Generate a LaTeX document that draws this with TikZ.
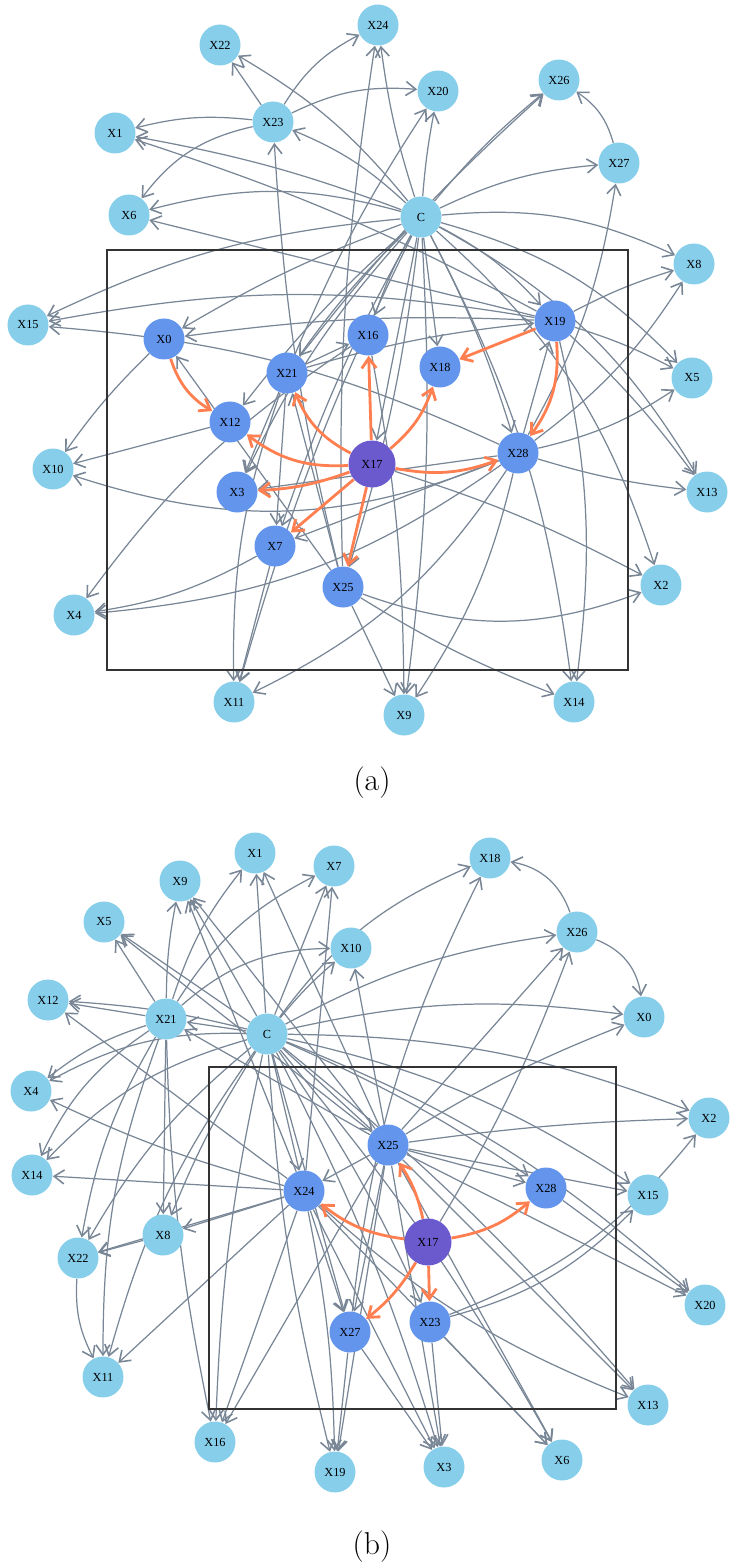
\documentclass[tikz,border=0pt]{standalone}
\usepackage{fontspec}
\newfontfamily\nodefont{Liberation Serif}
\usepackage{tikz}
\usetikzlibrary{arrows.meta,backgrounds}
\definecolor{xLeaf}{RGB}{135,206,235}
\definecolor{xMid}{RGB}{100,149,237}
\definecolor{xSource}{RGB}{106,90,205}
\definecolor{xEdge}{RGB}{120,134,150}
\definecolor{xHit}{RGB}{255,127,80}
\tikzset{
  leaf/.style={circle,fill=xLeaf,minimum size=8.2mm,inner sep=0pt,font=\nodefont\fontsize{7}{8}\selectfont},
  mid/.style={leaf,fill=xMid},
  source/.style={leaf,fill=xSource,minimum size=9.4mm},
  edge/.style={draw=xEdge,line width=0.7pt,-{Straight Barb[length=2mm,width=2.8mm,line width=0.9pt]}},
  hit/.style={draw=xHit,line width=1.6pt,-{Straight Barb[length=2mm,width=2.9mm]}},
}
\begin{document}
\begin{tikzpicture}[x=0.2mm,y=-0.2mm]
    \useasboundingbox (0,0) rectangle (740,1567);

    % panel (a)
    \draw[black!80,line width=0.6pt] (107,250) rectangle (628,670);
    \node[leaf] (aC) at (421,217) {C};
    \node[leaf] (a24) at (378,25) {X24};
    \node[leaf] (a22) at (220,45) {X22};
    \node[leaf] (a26) at (559,80) {X26};
    \node[leaf] (a20) at (438,91) {X20};
    \node[leaf] (a23) at (273,122) {X23};
    \node[leaf] (a1) at (115,133) {X1};
    \node[leaf] (a27) at (619,163) {X27};
    \node[leaf] (a6) at (129,215) {X6};
    \node[leaf] (a8) at (694,264) {X8};
    \node[leaf] (a15) at (28,325) {X15};
    \node[mid] (a0) at (164,339) {X0};
    \node[mid] (a16) at (368,335) {X16};
    \node[mid] (a19) at (555,321) {X19};
    \node[mid] (a21) at (287,373) {X21};
    \node[mid] (a18) at (440,367) {X18};
    \node[leaf] (a5) at (692,378) {X5};
    \node[mid] (a12) at (230,422) {X12};
    \node[source] (a17) at (372,464) {X17};
    \node[mid] (a28) at (518,453) {X28};
    \node[leaf] (a10) at (53,469) {X10};
    \node[mid] (a3) at (237,492) {X3};
    \node[leaf] (a13) at (707,492) {X13};
    \node[mid] (a7) at (275,546) {X7};
    \node[mid] (a25) at (343,587) {X25};
    \node[leaf] (a2) at (661,585) {X2};
    \node[leaf] (a4) at (74,615) {X4};
    \node[leaf] (a11) at (234,702) {X11};
    \node[leaf] (a9) at (404,715) {X9};
    \node[leaf] (a14) at (574,702) {X14};
    \node (alabel) at (372,783) {\fontsize{18}{20}\selectfont (a)};

    % panel (b)
    \draw[black!80,line width=0.6pt] (209,1067) rectangle (616,1409);
    \node[leaf] (bC) at (267,1034) {C};
    \node[leaf] (b1) at (255,853) {X1};
    \node[leaf] (b7) at (334,866) {X7};
    \node[leaf] (b18) at (490,858) {X18};
    \node[leaf] (b9) at (180,881) {X9};
    \node[leaf] (b5) at (104,922) {X5};
    \node[leaf] (b26) at (577,932) {X26};
    \node[leaf] (b10) at (351,948) {X10};
    \node[leaf] (b12) at (48,1000) {X12};
    \node[leaf] (b21) at (166,1019) {X21};
    \node[leaf] (b0) at (644,1017) {X0};
    \node[leaf] (b4) at (31,1091) {X4};
    \node[leaf] (b2) at (709,1118) {X2};
    \node[mid] (b25) at (388,1145) {X25};
    \node[leaf] (b14) at (32,1175) {X14};
    \node[mid] (b24) at (304,1191) {X24};
    \node[mid] (b28) at (546,1188) {X28};
    \node[leaf] (b15) at (648,1195) {X15};
    \node[leaf] (b8) at (163,1235) {X8};
    \node[source] (b17) at (428,1242) {X17};
    \node[leaf] (b22) at (78,1258) {X22};
    \node[leaf] (b20) at (705,1305) {X20};
    \node[mid] (b27) at (350,1332) {X27};
    \node[mid] (b23) at (430,1322) {X23};
    \node[leaf] (b11) at (103,1377) {X11};
    \node[leaf] (b13) at (648,1405) {X13};
    \node[leaf] (b16) at (215,1442) {X16};
    \node[leaf] (b19) at (335,1472) {X19};
    \node[leaf] (b3) at (444,1467) {X3};
    \node[leaf] (b6) at (562,1460) {X6};
    \node (blabel) at (372,1547) {\fontsize{18}{20}\selectfont (b)};

    \begin{pgfonlayer}{background}
    % (a): edges out of C
    \foreach \t/\b in {24/5,22/-10,1/-5,6/-15,15/-10,0/-5,23/-10,20/3,26/5,27/10,8/15,19/10,5/15,13/15,2/15,18/0,16/-5,21/-5,12/-5,3/-8,17/0,28/5,25/5,9/5,14/10,11/-5,7/-5}
      \draw[edge] (aC) to[bend left=\b] (a\t);
    % (a): the other edges
    \foreach \s/\t/\b in {23/22/0, 23/24/15, 23/1/-10, 23/6/-20, 23/20/15, 27/26/-20,
        19/8/5, 19/5/5, 19/13/5, 19/14/10, 19/1/-5, 19/15/-10, 19/0/-5, 19/6/0,
        28/5/-10, 28/13/-5, 28/8/-10, 28/27/-10, 28/9/10, 28/4/15, 28/7/0, 28/19/0,
        28/10/20, 28/11/15, 28/3/0, 28/15/-10, 0/10/-5, 12/10/0,
        25/2/-20, 25/14/-5, 25/9/0, 25/24/5, 25/23/5, 25/21/0, 25/0/0, 7/4/10, 7/11/0,
        21/3/0, 21/16/0, 21/19/5, 21/11/-10, 21/7/0, 21/26/5, 21/20/5, 16/9/5, 16/4/-10, 17/2/5}
      \draw[edge] (a\s) to[bend left=\b] (a\t);
    % (a): orange edges
    \foreach \s/\t/\b in {17/12/20, 17/3/8, 17/7/0, 17/25/0, 17/28/-15, 17/18/-15, 17/16/0, 17/21/20, 19/18/0, 19/28/20, 0/12/-20}
      \draw[hit] (a\s) to[bend left=\b] (a\t);

    % (b): edges out of C
    \foreach \t/\b in {21/0,12/-5,5/0,9/0,1/0,7/0,10/5,18/15,26/10,0/10,2/10,15/10,20/10,13/5,25/0,24/0,27/0,19/-5,16/-5,4/-15,14/-15,11/-10,22/-10,8/-5,3/5,6/5,28/5,23/5}
      \draw[edge] (bC) to[bend left=\b] (b\t);
    % (b): the other edges
    \foreach \s/\t/\b in {21/12/0, 21/5/0, 21/9/5, 21/1/10, 21/7/15, 21/10/20, 21/4/-10, 21/14/-15,
        21/22/-10, 21/8/0, 21/11/-10, 21/16/-5, 26/18/-30, 26/0/30,
        25/10/0, 25/24/0, 25/2/3, 25/26/0, 25/0/5, 25/15/0, 25/20/0, 25/13/0, 25/28/0, 25/27/0,
        25/16/0, 25/3/0, 25/6/0, 25/21/0, 25/5/0, 25/9/0, 25/1/0, 25/19/0, 27/18/10, 17/26/-5,
        24/14/0, 24/8/0, 24/22/0, 24/11/0, 24/4/5, 24/12/0, 24/27/0, 24/19/5, 24/3/0, 24/6/0,
        24/13/-10, 24/16/0, 24/9/0, 24/7/0, 23/15/-15, 23/2/-15, 23/3/0, 23/6/0,
        22/11/-15, 8/22/0, 28/20/0, 27/19/0, 27/3/0}
      \draw[edge] (b\s) to[bend left=\b] (b\t);
    % (b): orange edges
    \foreach \s/\t/\b in {17/25/-10, 17/24/15, 17/28/-15, 17/23/0, 17/27/10}
      \draw[hit] (b\s) to[bend left=\b] (b\t);
    \end{pgfonlayer}
\end{tikzpicture}
\end{document}
